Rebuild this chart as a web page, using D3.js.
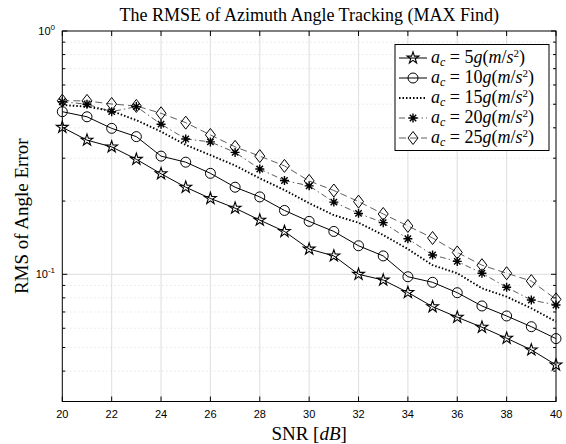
<!DOCTYPE html>
<html>
<head>
<meta charset="utf-8">
<script src="https://cdn.jsdelivr.net/npm/d3@7"></script>
<style>
  html, body { margin: 0; padding: 0; background: #fff; }
  svg { display: block; }
</style>
</head>
<body>
<svg id="chart" width="566" height="444"></svg>
<script>
// SNR values (dB)
const snr = [20,21,22,23,24,25,26,27,28,29,30,31,32,33,34,35,36,37,38,39,40];

// RMS angle error for each acceleration
const rms5g  = [0.402,0.356,0.334,0.297,0.259,0.228,0.205,0.187,0.167,0.150,0.127,0.119,0.100,0.0947,0.0842,0.0736,0.0666,0.0606,0.0546,0.0489,0.0424];
const rms10g = [0.466,0.444,0.398,0.368,0.306,0.289,0.260,0.228,0.208,0.183,0.165,0.150,0.131,0.119,0.0977,0.0927,0.0840,0.0741,0.0674,0.0609,0.0544];
const rms15g = [0.496,0.489,0.469,0.430,0.386,0.340,0.309,0.280,0.248,0.222,0.196,0.175,0.163,0.145,0.127,0.109,0.101,0.0876,0.0809,0.0725,0.0639];
const rms20g = [0.512,0.500,0.466,0.489,0.414,0.360,0.350,0.317,0.271,0.243,0.231,0.198,0.178,0.163,0.140,0.120,0.113,0.101,0.0884,0.0784,0.0748];
const rms25g = [0.517,0.516,0.501,0.492,0.459,0.420,0.374,0.334,0.306,0.279,0.242,0.221,0.199,0.177,0.158,0.141,0.123,0.109,0.101,0.0938,0.0789];

// Legend numbers and tick values
const accel = ["5","10","15","20","25"];
const xTicks = [20,22,24,26,28,30,32,34,36,38,40];
const yMajor = [1, 0.1];
const yMinor = [0.03,0.04,0.05,0.06,0.07,0.08,0.09,0.2,0.3,0.4,0.5,0.6,0.7,0.8,0.9];
const yMajorExp = ["0","-1"];

const svg = d3.select("#chart");
const L = 62.3, R = 556, T = 31, B = 401.5;
const x = d3.scaleLinear().domain([20, 40]).range([L, R]);
const y = d3.scaleLog().domain([0.03, 1]).range([B, T]);

const serif = "'Liberation Serif', 'Times New Roman', serif";
const sans = "'Liberation Sans', Arial, sans-serif";

// grid
const grid = svg.append("g");
grid.selectAll("line.vx").data(xTicks.slice(1, -1)).join("line")
  .attr("x1", d => x(d)).attr("x2", d => x(d))
  .attr("y1", T).attr("y2", B)
  .attr("stroke", "#e3e3e3").attr("stroke-width", 1.2);
grid.selectAll("line.hmaj").data([0.1]).join("line")
  .attr("x1", L).attr("x2", R)
  .attr("y1", d => y(d)).attr("y2", d => y(d))
  .attr("stroke", "#e3e3e3").attr("stroke-width", 1.2);
grid.selectAll("line.hmin").data(yMinor).join("line")
  .attr("x1", L).attr("x2", R)
  .attr("y1", d => y(d)).attr("y2", d => y(d))
  .attr("stroke", "#d0d0d0").attr("stroke-width", 0.8)
  .attr("stroke-dasharray", "1,3");

// ticks (inward)
const ticks = svg.append("g").attr("stroke", "#000").attr("stroke-width", 1);
xTicks.forEach(t => {
  ticks.append("line").attr("x1", x(t)).attr("x2", x(t)).attr("y1", B).attr("y2", B - 5);
  ticks.append("line").attr("x1", x(t)).attr("x2", x(t)).attr("y1", T).attr("y2", T + 5);
});
yMajor.forEach(t => {
  ticks.append("line").attr("x1", L).attr("x2", L + 5).attr("y1", y(t)).attr("y2", y(t));
  ticks.append("line").attr("x1", R).attr("x2", R - 5).attr("y1", y(t)).attr("y2", y(t));
});
yMinor.forEach(t => {
  ticks.append("line").attr("x1", L).attr("x2", L + 3).attr("y1", y(t)).attr("y2", y(t));
  ticks.append("line").attr("x1", R).attr("x2", R - 3).attr("y1", y(t)).attr("y2", y(t));
});

// tick labels
svg.append("g").selectAll("text").data(xTicks).join("text")
  .attr("x", d => x(d)).attr("y", 418)
  .attr("text-anchor", "middle")
  .attr("font-family", sans).attr("font-size", 11)
  .text(d => d);

yMajor.forEach((t, i) => {
  const tx = svg.append("text")
    .attr("x", 55).attr("y", y(t) + 4)
    .attr("text-anchor", "end")
    .attr("font-family", sans).attr("font-size", 11);
  tx.append("tspan").text("10");
  tx.append("tspan").attr("font-size", 8).attr("dy", -5).text(yMajorExp[i]);
});

// series drawing
const line = d3.line().x((d, i) => x(snr[i])).y(d => y(d));

function starPath(r) {
  const ri = r * 0.382;
  const pts = [];
  for (let k = 0; k < 10; k++) {
    const a = -Math.PI / 2 + k * Math.PI / 5;
    const rr = k % 2 === 0 ? r : ri;
    pts.push([rr * Math.cos(a), rr * Math.sin(a)]);
  }
  return "M" + pts.map(p => p[0].toFixed(2) + "," + p[1].toFixed(2)).join("L") + "Z";
}
const markers = {
  star: g => g.append("path").attr("d", starPath(6.2)).attr("fill", "none").attr("stroke", "#000").attr("stroke-width", 1.1),
  circle: g => g.append("circle").attr("r", 5).attr("fill", "none").attr("stroke", "#000").attr("stroke-width", 1),
  none: g => {},
  asterisk: g => {
    const r = 4.5, q = r * Math.SQRT1_2;
    g.append("path").attr("d", `M${-r},0L${r},0M0,${-r}L0,${r}M${-q},${-q}L${q},${q}M${-q},${q}L${q},${-q}`)
      .attr("stroke", "#000").attr("stroke-width", 1.4);
  },
  diamond: g => g.append("path").attr("d", "M0,-6.5L5,0L0,6.5L-5,0Z").attr("fill", "none").attr("stroke", "#000").attr("stroke-width", 1)
};

const series = [
  { values: rms5g,  dash: null,          width: 1,   color: "#000", marker: "star" },
  { values: rms10g, dash: null,          width: 1,   color: "#000", marker: "circle" },
  { values: rms15g, dash: "1.5,2",       width: 1.9, color: "#000", marker: "none" },
  { values: rms20g, dash: "6,3,1.5,3",   width: 0.8, color: "#333", marker: "asterisk" },
  { values: rms25g, dash: "7,4",         width: 0.8, color: "#333", marker: "diamond" }
];

const plot = svg.append("g");
series.forEach(s => {
  plot.append("path").datum(s.values)
    .attr("d", line)
    .attr("fill", "none")
    .attr("stroke", s.color)
    .attr("stroke-width", s.width)
    .attr("stroke-dasharray", s.dash);
  s.values.forEach((v, i) => {
    const g = plot.append("g").attr("transform", `translate(${x(snr[i])},${y(v)})`);
    markers[s.marker](g);
  });
});

// frame
svg.append("rect").attr("x", L).attr("y", T).attr("width", R - L).attr("height", B - T)
  .attr("fill", "none").attr("stroke", "#000").attr("stroke-width", 1);

// legend
const lg = svg.append("g");
const LX = 395, LY = 44.5, LW = 154, LH = 106;
lg.append("rect").attr("x", LX).attr("y", LY).attr("width", LW).attr("height", LH)
  .attr("fill", "#fff").attr("stroke", "#000").attr("stroke-width", 1);
series.forEach((s, i) => {
  const cy = 58 + i * 20;
  lg.append("line").attr("x1", 399).attr("x2", 427).attr("y1", cy).attr("y2", cy)
    .attr("stroke", s.color).attr("stroke-width", s.width).attr("stroke-dasharray", s.dash);
  const g = lg.append("g").attr("transform", `translate(413,${cy})`);
  markers[s.marker](g);
  const t = lg.append("text").attr("x", 431).attr("y", cy + 5)
    .attr("font-family", serif).attr("font-size", 18);
  t.append("tspan").attr("font-style", "italic").text("a");
  t.append("tspan").attr("font-style", "italic").attr("font-size", 12).attr("dy", 3).text("c");
  t.append("tspan").attr("dy", -3).text(" = " + accel[i]);
  t.append("tspan").attr("font-style", "italic").text("g");
  t.append("tspan").text("(");
  t.append("tspan").attr("font-style", "italic").text("m");
  t.append("tspan").text("/");
  t.append("tspan").attr("font-style", "italic").text("s");
  t.append("tspan").attr("font-size", 11).attr("dy", -6).text("2");
  t.append("tspan").attr("dy", 6).text(")");
});

// title and axis labels
svg.append("text").attr("x", (L + R) / 2).attr("y", 21)
  .attr("text-anchor", "middle").attr("font-family", serif).attr("font-size", 18)
  .text("The RMSE of Azimuth Angle Tracking (MAX Find)");

const xl = svg.append("text").attr("x", (L + R) / 2).attr("y", 440)
  .attr("text-anchor", "middle").attr("font-family", serif).attr("font-size", 19);
xl.append("tspan").text("SNR [");
xl.append("tspan").attr("font-style", "italic").text("dB");
xl.append("tspan").text("]");

svg.append("text")
  .attr("transform", `translate(28,${(T + B) / 2}) rotate(-90)`)
  .attr("text-anchor", "middle").attr("font-family", serif).attr("font-size", 19)
  .text("RMS of Angle Error");
</script>
</body>
</html>
